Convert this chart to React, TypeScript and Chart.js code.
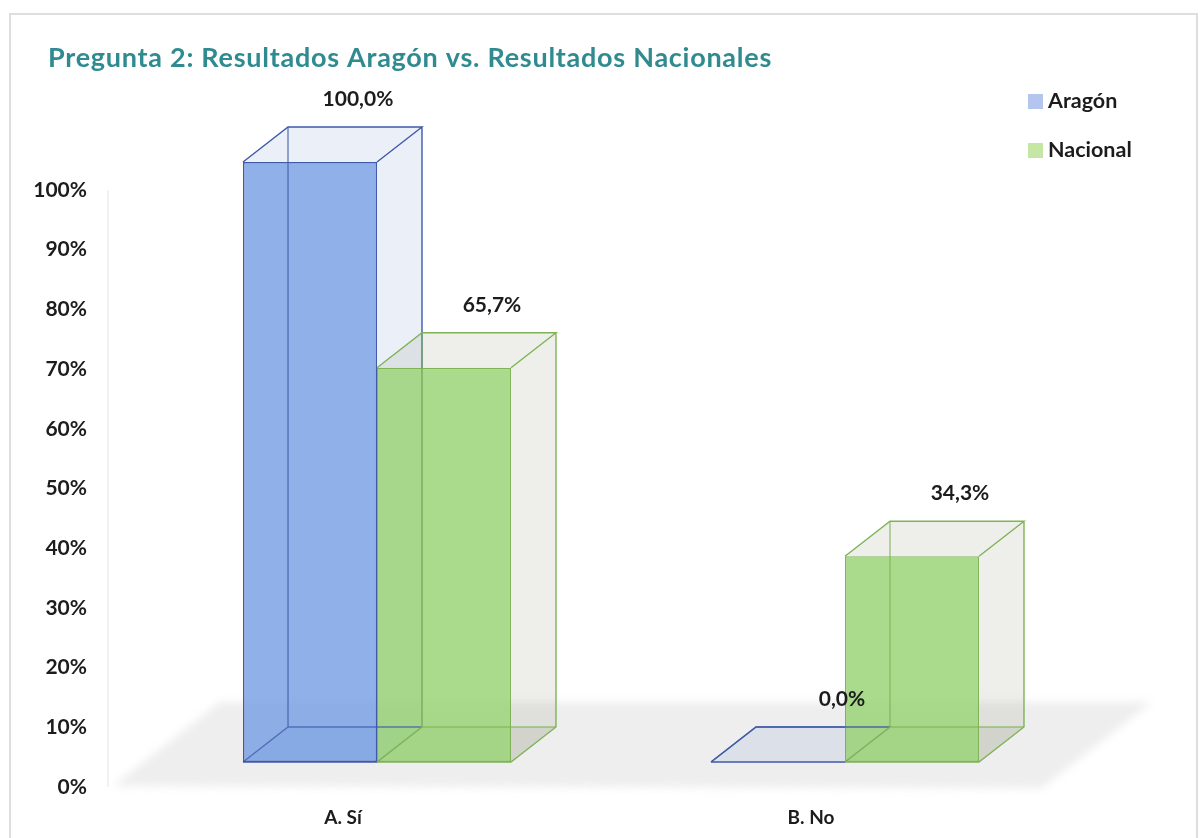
import React, { useEffect, useRef } from "react";
import { Chart, registerables } from "chart.js";

Chart.register(...registerables);

const categories = ["A. Sí", "B. No"];
const aragonValues = [100.0, 0.0];
const nacionalValues = [65.7, 34.3];
const yTickStep = 10;
const titleText = "Pregunta 2: Resultados Aragón vs. Resultados Nacionales";

const FONT = "Lato, 'Open Sans', sans-serif";
const DEPTH_X = 45;
const DEPTH_Y = 35;
const INK = "#1c1c1c";

const palette = [
  { front: "rgba(115,156,226,0.8)", edge: "#3f5aa8", face: "rgba(120,150,205,0.15)", swatch: "#b4c6f0" },
  { front: "rgba(149,209,111,0.8)", edge: "#7fb356", face: "rgba(120,135,100,0.13)", swatch: "#c6e6a6" },
];

function poly(ctx: CanvasRenderingContext2D, pts: number[][]) {
  ctx.beginPath();
  pts.forEach(([x, y], i) => (i ? ctx.lineTo(x, y) : ctx.moveTo(x, y)));
  ctx.closePath();
}

function barBox(bar: any) {
  const left = bar.x - bar.width / 2;
  const right = bar.x + bar.width / 2;
  return { left, right, top: bar.y, bottom: bar.base };
}

const scenePlugin = {
  id: "scene",
  beforeDraw(chart: any) {
    const { ctx, chartArea: a, width, height } = chart;
    ctx.save();
    ctx.fillStyle = "#ffffff";
    ctx.fillRect(0, 0, width, height);
    ctx.strokeStyle = "#dedede";
    ctx.lineWidth = 2;
    ctx.strokeRect(10, 14, width - 16, height + 20);
    // floor of the plot
    ctx.filter = "blur(4px)";
    ctx.fillStyle = "#eeeeee";
    poly(ctx, [
      [a.left - 30, a.bottom - 1],
      [a.right - 37, a.bottom + 1],
      [a.right + 73, a.bottom - 85],
      [a.left + 77, a.bottom - 85],
    ]);
    ctx.fill();
    ctx.filter = "none";
    // value axis line
    ctx.strokeStyle = "#e2e2e2";
    ctx.lineWidth = 1;
    ctx.beginPath();
    ctx.moveTo(a.left - 35, a.top);
    ctx.lineTo(a.left - 35, a.bottom);
    ctx.stroke();
    // title
    ctx.font = `bold 27px ${FONT}`;
    (ctx as any).letterSpacing = "0.73px";
    ctx.fillStyle = "#2f8b90";
    ctx.textAlign = "left";
    ctx.textBaseline = "middle";
    ctx.fillText(titleText, 48, 58);
    (ctx as any).letterSpacing = "0px";
    ctx.restore();
  },
  beforeDatasetsDraw(chart: any) {
    const { ctx } = chart;
    ctx.save();
    chart.data.datasets.forEach((_: any, di: number) => {
      const c = palette[di];
      chart.getDatasetMeta(di).data.forEach((bar: any) => {
        const { left, right, top, bottom } = barBox(bar);
        const dx = DEPTH_X;
        const dy = DEPTH_Y;
        const hasHeight = bottom - top > 0.5;
        // side, top and floor faces
        ctx.fillStyle = c.face;
        if (hasHeight) {
          poly(ctx, [[right, top], [right + dx, top - dy], [right + dx, bottom - dy], [right, bottom]]);
          ctx.fill();
          poly(ctx, [[left, top], [left + dx, top - dy], [right + dx, top - dy], [right, top]]);
          ctx.fill();
        }
        poly(ctx, [[left, bottom], [left + dx, bottom - dy], [right + dx, bottom - dy], [right, bottom]]);
        ctx.fill();
        // outer edges of the box
        ctx.strokeStyle = c.edge;
        ctx.lineWidth = 1.4;
        ctx.beginPath();
        ctx.moveTo(left, top);
        ctx.lineTo(left + dx, top - dy);
        ctx.lineTo(right + dx, top - dy);
        ctx.lineTo(right, top);
        ctx.moveTo(right + dx, top - dy);
        ctx.lineTo(right + dx, bottom - dy);
        ctx.lineTo(right, bottom);
        ctx.lineTo(left, bottom);
        ctx.stroke();
      });
    });
    ctx.restore();
  },
  afterDatasetsDraw(chart: any) {
    const { ctx } = chart;
    ctx.save();
    // edges seen through the front faces
    chart.data.datasets.forEach((_: any, di: number) => {
      const c = palette[di];
      chart.getDatasetMeta(di).data.forEach((bar: any) => {
        const { left, right, top, bottom } = barBox(bar);
        ctx.strokeStyle = c.edge;
        ctx.globalAlpha = 0.75;
        ctx.lineWidth = 1.4;
        ctx.beginPath();
        ctx.moveTo(left, bottom);
        ctx.lineTo(left + DEPTH_X, bottom - DEPTH_Y);
        ctx.lineTo(right + DEPTH_X, bottom - DEPTH_Y);
        ctx.moveTo(left + DEPTH_X, bottom - DEPTH_Y);
        ctx.lineTo(left + DEPTH_X, top - DEPTH_Y);
        ctx.stroke();
        ctx.globalAlpha = 1;
      });
    });
    ctx.textAlign = "center";
    ctx.textBaseline = "middle";
    ctx.font = `bold 21px ${FONT}`;
    ctx.fillStyle = INK;
    chart.data.datasets.forEach((ds: any, di: number) => {
      chart.getDatasetMeta(di).data.forEach((bar: any, i: number) => {
        const v = ds.data[i];
        const text = v.toFixed(1).replace(".", ",") + "%";
        ctx.fillText(text, bar.x + (v === 0 ? 64 : 48), bar.y - 63);
      });
    });
    // legend
    ctx.textAlign = "left";
    ctx.font = `bold 21.5px ${FONT}`;
    chart.data.datasets.forEach((ds: any, di: number) => {
      const y = 101 + di * 49;
      ctx.fillStyle = palette[di].swatch;
      ctx.fillRect(1028, y - 7, 15, 15);
      ctx.fillStyle = INK;
      ctx.fillText(ds.label, 1048, y);
    });
    ctx.restore();
  },
};

export default function App() {
  const ref = useRef<HTMLCanvasElement>(null);
  useEffect(() => {
    const chart = new Chart(ref.current as HTMLCanvasElement, {
      type: "bar",
      data: {
        labels: categories,
        datasets: [
          {
            label: "Aragón",
            data: aragonValues,
            backgroundColor: palette[0].front,
            borderColor: palette[0].edge,
            borderWidth: 1.4,
            borderSkipped: false,
            yAxisID: "yBar",
            clip: false,
          },
          {
            label: "Nacional",
            data: nacionalValues,
            backgroundColor: palette[1].front,
            borderColor: palette[1].edge,
            borderWidth: 1.4,
            borderSkipped: false,
            yAxisID: "yBar",
            clip: false,
          },
        ],
      },
      options: {
        responsive: false,
        animation: false,
        layout: { padding: { left: 0, right: 124, top: 190, bottom: 0 } },
        datasets: { bar: { categoryPercentage: 0.5726, barPercentage: 1 } },
        plugins: {
          legend: { display: false },
          tooltip: { enabled: false },
          title: { display: false, text: titleText },
        },
        scales: {
          x: {
            grid: { display: false },
            border: { display: false },
            ticks: {
              color: INK,
              font: { family: FONT, size: 19, weight: "bold" },
              padding: 11,
              labelOffset: -34,
              maxRotation: 0,
            },
            afterFit: (s: any) => {
              s.height = 51;
            },
          },
          y: {
            min: 0,
            max: 100,
            grid: { display: false },
            border: { display: false },
            ticks: {
              stepSize: yTickStep,
              padding: 48,
              color: INK,
              font: { family: FONT, size: 21, weight: "bold" },
              callback: (v: any) => v + "%",
            },
            afterFit: (s: any) => {
              s.width = 143;
              s.paddingTop = 0;
              s.paddingBottom = 0;
            },
          },
          // bars stand on the floor, above the printed zero line
          yBar: { display: false, min: -25 / 6, max: 572 / 6 },
        },
      },
      plugins: [scenePlugin],
    } as any);
    return () => chart.destroy();
  }, []);
  return (
    <div style={{ position: "absolute", left: 0, top: 0, width: 1203, height: 838, background: "#fff" }}>
      <canvas ref={ref} width={1203} height={838} style={{ display: "block" }} />
    </div>
  );
}
